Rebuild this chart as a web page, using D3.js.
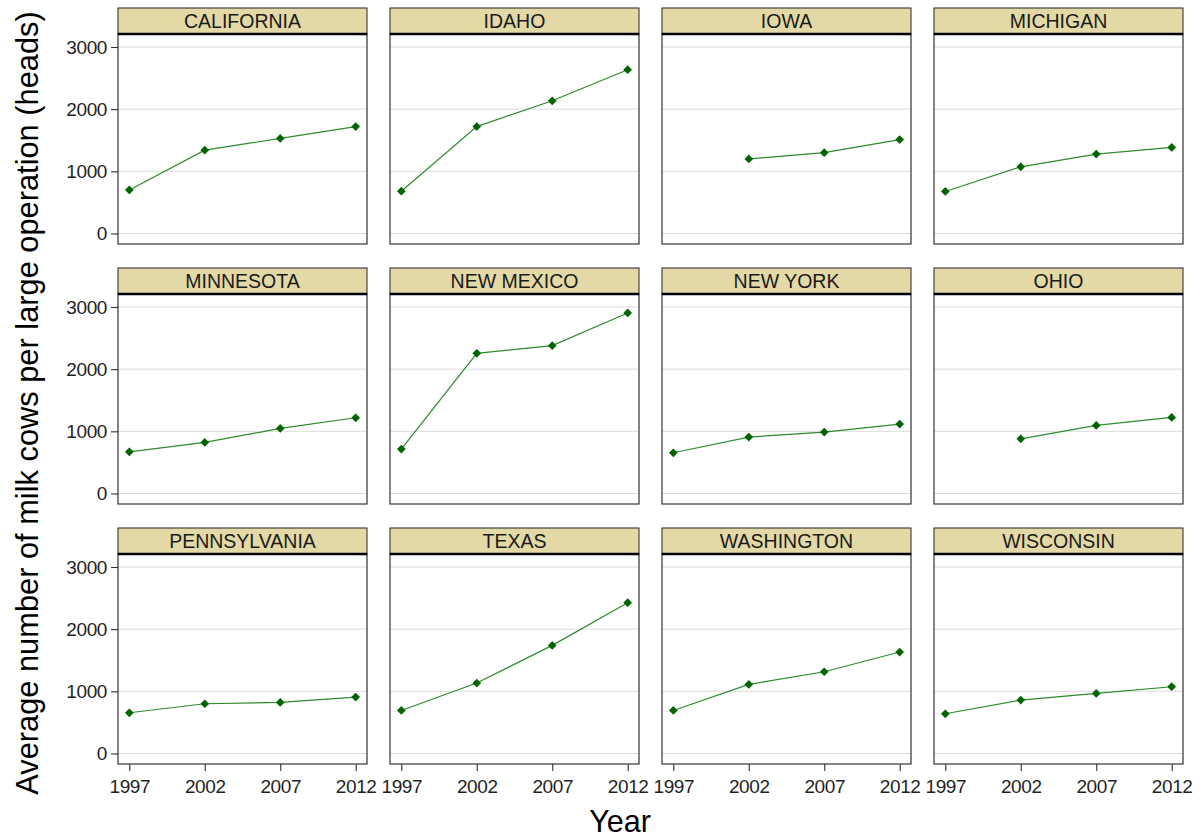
<!DOCTYPE html>
<html>
<head>
<meta charset="utf-8">
<script src="https://cdn.jsdelivr.net/npm/d3@7/dist/d3.min.js"></script>
<style>
  html, body { margin: 0; padding: 0; background: #fff; }
  svg { display: block; }
  text { font-family: "Liberation Sans", Arial, sans-serif; }
</style>
</head>
<body>
<svg id="chart" width="1202" height="840"></svg>
<script>
// Census years and states, in facet order
const years = [1997, 2002, 2007, 2012];
const states = ["CALIFORNIA", "IDAHO", "IOWA", "MICHIGAN",
                "MINNESOTA", "NEW MEXICO", "NEW YORK", "OHIO",
                "PENNSYLVANIA", "TEXAS", "WASHINGTON", "WISCONSIN"];

// Average milk cows per large operation, one array per state (null = not reported)
const california   = [700, 1340, 1530, 1720];
const idaho        = [680, 1720, 2135, 2635];
const iowa         = [null, 1200, 1300, 1510];
const michigan     = [676, 1073, 1278, 1385];
const minnesota    = [671, 821, 1047, 1218];
const newMexico    = [714, 2254, 2378, 2904];
const newYork      = [655, 907, 988, 1116];
const ohio         = [null, 880, 1095, 1224];
const pennsylvania = [655, 800, 821, 907];
const texas        = [692, 1133, 1739, 2426];
const washington   = [692, 1111, 1315, 1632];
const wisconsin    = [639, 859, 966, 1074];

const yTicks = [0, 1000, 2000, 3000];
const xTicks = [1997, 2002, 2007, 2012];

const seriesByState = [california, idaho, iowa, michigan,
                       minnesota, newMexico, newYork, ohio,
                       pennsylvania, texas, washington, wisconsin];

const svg = d3.select("#chart");

// facet grid geometry
const nCols = 4, nRows = 3;
const left0 = 118, colStep = 272, panelW = 249;
const top0 = 8, rowStep = 260, stripH = 26, panelH = 210;

const x = d3.scaleLinear().domain([1996.25, 2012.75]).range([0, panelW]);
const y = d3.scaleLinear().domain([-169, 3209]).range([panelH, 0]);

const line = d3.line()
  .defined(d => d.v != null)
  .x(d => x(d.year))
  .y(d => y(d.v));

const diamond = d3.symbol().type(d3.symbolSquare).size(38);
const tickFont = 19;

states.forEach((state, i) => {
  const col = i % nCols, row = Math.floor(i / nCols);
  const px = left0 + col * colStep;
  const stripTop = top0 + row * rowStep;
  const py = stripTop + stripH;

  // strip header
  const strip = svg.append("g").attr("transform", `translate(${px},${stripTop})`);
  strip.append("rect")
    .attr("x", 0).attr("y", 0).attr("width", panelW).attr("height", stripH)
    .attr("fill", "#E3D9A6").attr("stroke", "#333").attr("stroke-width", 1.1);
  strip.append("text")
    .attr("x", panelW / 2).attr("y", 20.3)
    .attr("text-anchor", "middle")
    .attr("font-size", 19.5).attr("fill", "#1a1a1a")
    .text(state);

  const g = svg.append("g").attr("transform", `translate(${px},${py})`);

  g.append("rect")
    .attr("width", panelW).attr("height", panelH)
    .attr("fill", "#fff");

  // horizontal gridlines
  g.selectAll("line.grid").data(yTicks).join("line")
    .attr("class", "grid")
    .attr("x1", 0).attr("x2", panelW)
    .attr("y1", d => y(d)).attr("y2", d => y(d))
    .attr("stroke", "#DCDCDC").attr("stroke-width", 1);

  const data = years.map((yr, k) => ({ year: yr, v: seriesByState[i][k] }));

  g.append("path")
    .datum(data)
    .attr("d", line)
    .attr("fill", "none")
    .attr("stroke", "#2E8B2E")
    .attr("stroke-width", 1.2);

  g.selectAll("path.pt").data(data.filter(d => d.v != null)).join("path")
    .attr("class", "pt")
    .attr("d", diamond)
    .attr("transform", d => `translate(${x(d.year)},${y(d.v)}) rotate(45)`)
    .attr("fill", "#006400");

  // panel border
  g.append("rect")
    .attr("width", panelW).attr("height", panelH)
    .attr("fill", "none").attr("stroke", "#333").attr("stroke-width", 1.2);

  // heavier rule under the strip
  g.append("line")
    .attr("x1", 0).attr("x2", panelW).attr("y1", 0).attr("y2", 0)
    .attr("stroke", "#000").attr("stroke-width", 2.6);

  // y axis on the first column
  if (col === 0) {
    const ya = g.append("g")
      .call(d3.axisLeft(y).tickValues(yTicks).tickSize(7).tickPadding(4).tickFormat(d3.format("d")));
    ya.select(".domain").remove();
    ya.selectAll(".tick line").attr("stroke", "#333").attr("stroke-width", 1.1);
    ya.selectAll(".tick text")
      .attr("font-size", tickFont).attr("fill", "#1f1f1f")
      .attr("letter-spacing", -0.4)
      .attr("font-family", "'Liberation Sans', Arial, sans-serif");
  }

  // x axis on the bottom row
  if (row === nRows - 1) {
    const xa = g.append("g")
      .attr("transform", `translate(0,${panelH})`)
      .call(d3.axisBottom(x).tickValues(xTicks).tickSize(7).tickPadding(9).tickFormat(d3.format("d")));
    xa.select(".domain").remove();
    xa.selectAll(".tick line").attr("stroke", "#333").attr("stroke-width", 1.1);
    xa.selectAll(".tick text")
      .attr("font-size", tickFont).attr("fill", "#1f1f1f")
      .attr("letter-spacing", -0.4)
      .attr("font-family", "'Liberation Sans', Arial, sans-serif");
  }
});

// axis titles
svg.append("text")
  .attr("x", 620).attr("y", 832)
  .attr("text-anchor", "middle")
  .attr("font-size", 30.5).attr("fill", "#000")
  .text("Year");

svg.append("text")
  .attr("transform", "translate(38,403) rotate(-90)")
  .attr("text-anchor", "middle")
  .attr("font-size", 30.8).attr("fill", "#000")
  .text("Average number of milk cows per large operation (heads)");
</script>
</body>
</html>
